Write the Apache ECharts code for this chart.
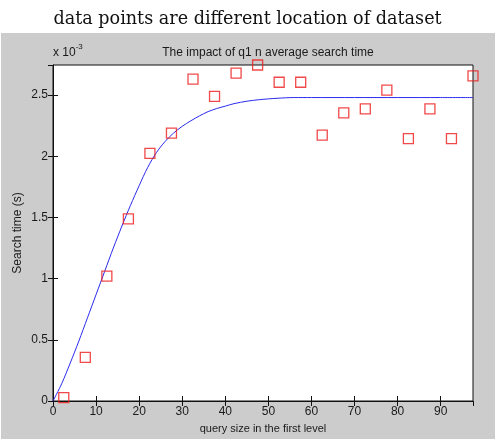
<!DOCTYPE html>
<html>
<head>
<meta charset="utf-8">
<script src="https://cdn.jsdelivr.net/npm/echarts@6/dist/echarts.min.js"></script>
<style>
  html, body { margin: 0; padding: 0; background: #fff; }
  #chart { width: 495px; height: 444px; }
</style>
</head>
<body>
<div id="chart"></div>
<script>
// measured data points (search time, in units of 1e-3 s)
const queryX = [2.5, 7.5, 12.5, 17.5, 22.5, 27.5, 32.5, 37.5, 42.5, 47.5,
                52.5, 57.5, 62.5, 67.5, 72.5, 77.5, 82.5, 87.5, 92.5, 97.5];
const searchTime = [0.028, 0.356, 1.02, 1.488, 2.023, 2.19, 2.63, 2.49, 2.68, 2.746,
                    2.605, 2.605, 2.173, 2.355, 2.388, 2.54, 2.145, 2.388, 2.145, 2.657];

// fitted curve
const fitX = [0, 2, 4, 6, 8, 10, 12, 14, 16, 18, 20, 22, 24, 26, 28, 30, 32, 34, 36, 38,
              40, 42, 45, 48, 52, 56, 60, 70, 80, 90, 97.5];
const fitY = [0, 0.14, 0.31, 0.49, 0.68, 0.87, 1.06, 1.25, 1.43, 1.60, 1.76, 1.91, 2.03, 2.12, 2.19, 2.245, 2.29, 2.33, 2.365, 2.39,
              2.41, 2.43, 2.45, 2.463, 2.474, 2.48, 2.48, 2.48, 2.48, 2.48, 2.48];

const xTicks = [0, 10, 20, 30, 40, 50, 60, 70, 80, 90];
const yTicks = [0, 0.5, 1, 1.5, 2, 2.5];

const FONT = '"Liberation Sans", Arial, sans-serif';
const INK = '#1a1a1a';

const chart = echarts.init(document.getElementById('chart'));

const tickLabel = { color: INK, fontFamily: FONT, fontSize: 12 };

chart.setOption({
  backgroundColor: '#fff',
  animation: false,
  graphic: {
    elements: [{
      type: 'rect', z: -100, silent: true,
      shape: { x: 1, y: 33, width: 494, height: 406 },
      style: { fill: '#cccccc' }
    }, {
      type: 'text', left: 53, top: 43, silent: true,
      style: {
        text: '{a|x 10}{b|-3}',
        rich: {
          a: { fontFamily: FONT, fontSize: 12, fill: INK, verticalAlign: 'bottom' },
          b: { fontFamily: FONT, fontSize: 8, fill: INK, verticalAlign: 'top', padding: [0, 0, 8, 0] }
        }
      }
    }]
  },
  title: [{
    text: 'data points are different location of dataset',
    left: 'center', top: 5,
    textStyle: { fontFamily: '"DejaVu Serif", serif', fontSize: 17.6, fontWeight: 'normal', color: '#111' }
  }, {
    text: 'The impact of q1 n average search time',
    left: 263, top: 42, textAlign: 'center',
    textStyle: { fontFamily: FONT, fontSize: 12, fontWeight: 'normal', color: INK }
  }],
  grid: {
    left: 53, right: 22, top: 65, bottom: 43,
    show: true, backgroundColor: '#fff', borderColor: '#111', borderWidth: 1
  },
  xAxis: [{
    type: 'value', min: 0, max: 97.5, interval: 10,
    name: 'query size in the first level', nameLocation: 'middle', nameGap: 22,
    nameMoveOverlap: false,
    nameTextStyle: { color: INK, fontFamily: FONT, fontSize: 11 },
    axisLine: { show: true, onZero: false, lineStyle: { color: '#111', width: 1 } },
    axisTick: { show: true, inside: true, length: 5, lineStyle: { color: '#111' } },
    axisLabel: { ...tickLabel, margin: 5, showMaxLabel: false,
      formatter: v => xTicks.includes(v) ? String(v) : '' },
    splitLine: { show: false }
  }, {
    type: 'value', position: 'top', min: 0, max: 97.5, interval: 10,
    axisLine: { show: false },
    axisTick: { show: true, inside: true, length: 5, lineStyle: { color: '#111' } },
    axisLabel: { show: false },
    splitLine: { show: false }
  }],
  yAxis: [{
    type: 'value', min: 0, max: 2.746, interval: 0.5,
    name: 'Search time (s)', nameLocation: 'middle', nameGap: 29,
    nameMoveOverlap: false,
    nameTextStyle: { color: INK, fontFamily: FONT, fontSize: 12 },
    axisLine: { show: true, onZero: false, lineStyle: { color: '#111', width: 1 } },
    axisTick: { show: true, inside: true, length: 5, lineStyle: { color: '#111' } },
    axisLabel: { ...tickLabel, margin: 5, showMaxLabel: false,
      formatter: v => yTicks.includes(v) ? String(v) : '' },
    splitLine: { show: false }
  }, {
    type: 'value', position: 'right', min: 0, max: 2.746, interval: 0.5,
    axisLine: { show: false },
    axisTick: { show: true, inside: true, length: 5, lineStyle: { color: '#111' } },
    axisLabel: { show: false },
    splitLine: { show: false }
  }],
  series: [{
    name: 'fit',
    type: 'line',
    data: fitX.map((x, i) => [x, fitY[i]]),
    smooth: 0.3,
    symbol: 'none',
    lineStyle: { color: '#2a2aee', width: 1 },
    z: 2
  }, {
    name: 'data',
    type: 'scatter',
    data: queryX.map((x, i) => [x, searchTime[i]]),
    symbol: 'rect',
    symbolSize: 10,
    clip: false,
    itemStyle: { color: 'rgba(0,0,0,0)', borderColor: '#ee1c1c', borderWidth: 1.3 },
    z: 3
  }]
});
</script>
</body>
</html>
